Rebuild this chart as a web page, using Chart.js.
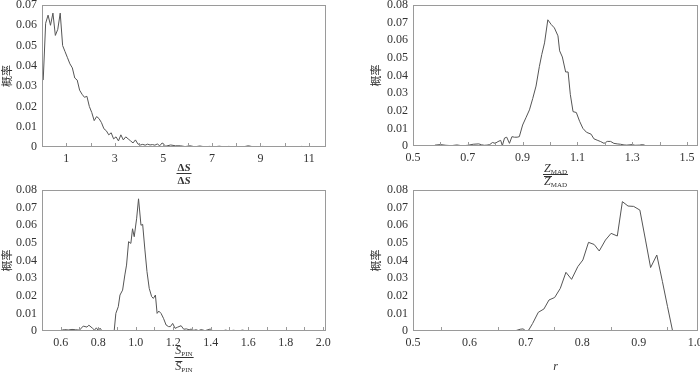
<!DOCTYPE html>
<html>
<head>
<meta charset="utf-8">
<script src="https://cdn.jsdelivr.net/npm/chart.js@4"></script>
<style>
  body { margin: 0; background: #fff; }
  #wrap { position: relative; width: 700px; height: 375px; overflow: hidden; }
  canvas { position: absolute; }
</style>
</head>
<body>
<div id="wrap">
  <canvas id="c1" width="350" height="187" style="left:0;top:0"></canvas>
  <canvas id="c2" width="350" height="187" style="left:350px;top:0"></canvas>
  <canvas id="c3" width="350" height="197" style="left:0;top:178px"></canvas>
  <canvas id="c4" width="350" height="197" style="left:350px;top:178px"></canvas>
</div>
<script>
// panel 1: dS / mean dS
const dsX = [0.05,0.15,0.25,0.35,0.45,0.55,0.65,0.75,0.85,0.95,
  1.05,1.15,1.25,1.35,1.45,1.55,1.65,1.75,1.85,1.95,
  2.05,2.15,2.25,2.35,2.45,2.55,2.65,2.75,2.85,2.95,
  3.05,3.15,3.25,3.35,3.45,3.55,3.65,3.75,3.85,3.95,
  4.05,4.15,4.25,4.35,4.45,4.55,4.65,4.75,4.85,4.95,
  5.1,5.3,5.5,5.7,5.9,6.1,6.3,6.5,6.7,6.9,7.1,7.3,7.5,7.7,7.9,8.1,8.3,8.5,8.7,8.9,
  9.1,9.3,9.5,9.7,9.9,10.1,10.3,10.5,10.7,10.9,11.1,11.3,11.5,11.7];
const dsP = [0.033,0.061,0.065,0.060,0.066,0.055,0.058,0.066,0.050,0.047,
  0.044,0.041,0.039,0.034,0.033,0.028,0.026,0.0245,0.025,0.020,
  0.017,0.013,0.015,0.014,0.012,0.009,0.008,0.006,0.007,0.004,
  0.005,0.003,0.006,0.0035,0.005,0.004,0.003,0.002,0.0035,0.0015,
  0.001,0.0013,0.0009,0.0014,0.001,0.0012,0.0009,0.0015,0.0006,0.002,
  0.0004,0.001,0.0006,0.0006,0.0002,0.0006,0.0001,0.0005,0.0001,0.0003,0.0001,0.0004,0.0001,0.0003,0,0.0002,0.0001,0.0006,0.0001,0,
  0.0003,0,0.0001,0,0.0001,0,0.0001,0,0.0003,0,0.0001,0,0,0];
const dsTicks = [1, 3, 5, 7, 9, 11];

// panel 2: Z_MAD / mean
const zX = [0.58,0.60,0.62,0.64,0.66,0.68,0.70,0.72,0.74,0.75,0.76,0.77,0.78,0.79,0.80,0.81,0.82,0.826,0.834,0.842,
  0.852,0.861,0.870,0.880,0.888,0.900,0.912,0.925,0.937,0.949,0.961,0.970,0.980,0.992,1.004,1.016,1.029,1.035,1.045,1.057,
  1.066,1.074,1.084,1.096,1.108,1.120,1.133,1.150,1.160,1.172,1.185,1.197,1.209,1.221,1.233,1.245,1.257,1.270,1.280,1.300,
  1.310,1.326,1.338,1.350,1.370,1.400,1.420];
const zP = [0.0005,0.0008,0.0004,0.0002,0.0006,0.0001,0.0004,0.001,0.0012,0.0007,0.0004,0.0005,0.0008,0.002,0.0015,0.0025,0.0032,0.0002,0.0045,0.005,
  0.0015,0.0053,0.005,0.005,0.0053,0.0119,0.016,0.0205,0.027,0.034,0.045,0.052,0.0585,0.0716,0.069,0.067,0.0625,0.054,0.0505,0.042,
  0.042,0.0293,0.0195,0.019,0.014,0.010,0.0078,0.0067,0.0041,0.0033,0.0025,0.0015,0.0026,0.0026,0.0015,0.0012,0.001,0.0006,0.0005,0.0008,
  0.0004,0.0005,0.0008,0.0002,0,0.0003,0];
const zTicks = [0.5, 0.7, 0.9, 1.1, 1.3, 1.5];

// panel 3: S_PIN / mean
const sX = [0.55,0.58,0.60,0.62,0.64,0.66,0.68,0.70,0.72,0.74,0.75,0.77,0.78,0.79,0.80,0.81,0.82,0.86,0.885,0.894,
  0.907,0.916,0.930,0.942,0.951,0.962,0.974,0.983,0.992,1.005,1.015,1.028,1.037,1.049,1.060,1.072,1.085,1.094,1.105,1.114,
  1.123,1.135,1.148,1.162,1.175,1.185,1.197,1.210,1.224,1.242,1.256,1.270,1.285,1.295,1.310,1.322,1.335,1.349,1.370,1.397,
  1.410,1.430,1.460,1.480,1.500,1.520,1.550,1.570,1.590,1.620];
const sP = [0,0,0.0003,0.0008,0.0006,0.0009,0.0007,0.0005,0.0028,0.0022,0.0033,0.0015,0.0005,0.0018,0.0003,0.0016,0,0,0,0.010,
  0.0138,0.0204,0.0232,0.0318,0.0374,0.0507,0.0497,0.058,0.0535,0.064,0.075,0.060,0.0605,0.046,0.0337,0.0242,0.0195,0.0185,0.0204,0.010,
  0.0113,0.010,0.0072,0.0034,0.0025,0.0025,0.0043,0.0015,0.0022,0.003,0.001,0.0012,0.0007,0.0011,0.0004,0.0007,0.0002,0.0008,0.0002,0.0011,
  0.0003,0.0002,0,0.0005,0,0.0004,0.0001,0.0005,0,0];
const sTicks = [0.6, 0.8, 1.0, 1.2, 1.4, 1.6, 1.8, 2.0];

// panel 4: r
const rX = [0.5,0.55,0.60,0.63,0.645,0.66,0.68,0.69,0.695,0.70,0.705,0.712,0.722,0.732,0.741,0.751,0.761,0.771,0.781,0.792,
  0.801,0.811,0.821,0.830,0.841,0.851,0.862,0.871,0.881,0.891,0.902,0.912,0.921,0.932,0.942,0.951,0.960,0.970,0.980];
const rP = [0,0,0,0,0.0002,0,0,0.001,0.0012,0,0.0005,0.0043,0.0106,0.0125,0.0176,0.019,0.0242,0.0333,0.0293,0.0365,
  0.0403,0.0503,0.0491,0.0454,0.0516,0.0554,0.0539,0.0734,0.0709,0.0707,0.0686,0.0516,0.036,0.0431,0.028,0.0138,0,0,0];
const rTicks = [0.5, 0.6, 0.7, 0.8, 0.9, 1.0];

const yTicks7 = [0, 0.01, 0.02, 0.03, 0.04, 0.05, 0.06, 0.07];
const yTicks8 = [0, 0.01, 0.02, 0.03, 0.04, 0.05, 0.06, 0.07, 0.08];
const yName = "概率";

Chart.defaults.font.family = '"Liberation Serif", "Times New Roman", serif';
Chart.defaults.color = "#333";

const SERIF = '"Liberation Serif", serif';

// draw a run of text pieces centred on cx, return total width
function pieces(ctx, parts, cx, y, draw) {
  let w = 0;
  parts.forEach((p) => {
    ctx.font = p.f;
    w += ctx.measureText(p.t).width;
  });
  if (!draw) return w;
  let x = cx - w / 2;
  parts.forEach((p) => {
    ctx.font = p.f;
    ctx.fillText(p.t, x, y + (p.dy || 0));
    x += ctx.measureText(p.t).width;
  });
  return w;
}

const framePlugin = {
  id: "frame",
  afterDraw(chart) {
    const o = chart.options.plugins.frame;
    const { ctx, chartArea: a } = chart;
    const xs = chart.scales.x;
    ctx.save();
    ctx.strokeStyle = "#9a9a9a";
    ctx.lineWidth = 1;
    ctx.strokeRect(a.left + 0.5, a.top + 0.5, a.right - a.left - 1, a.bottom - a.top - 1);
    ctx.beginPath();
    o.marks.forEach((v) => {
      const px = Math.round(xs.getPixelForValue(v)) + 0.5;
      ctx.moveTo(px, a.bottom);
      ctx.lineTo(px, a.bottom - 4);
    });
    ctx.stroke();

    ctx.fillStyle = "#333";
    ctx.textBaseline = "middle";
    ctx.textAlign = "left";
    // y title
    ctx.save();
    ctx.translate(o.yx, (a.top + a.bottom) / 2);
    ctx.rotate(-Math.PI / 2);
    ctx.font = '11px "Noto Sans CJK SC"';
    ctx.textAlign = "center";
    ctx.fillText(yName, 0, 0);
    ctx.restore();

    // x title
    const cx = (a.left + a.right) / 2;
    const t = o.title;
    if (t.single) {
      pieces(ctx, t.single, cx, t.y, true);
    } else {
      const w1 = pieces(ctx, t.num, cx, t.yNum, true);
      const w2 = pieces(ctx, t.den, cx, t.yDen, true);
      const lw = Math.max(w1, w2) + 2;
      ctx.strokeStyle = "#333";
      ctx.beginPath();
      ctx.moveTo(cx - lw / 2, t.yLine + 0.5);
      ctx.lineTo(cx + lw / 2, t.yLine + 0.5);
      // bar over the mean in the denominator
      const ow = t.barW;
      const ox = cx - w2 / 2;
      ctx.moveTo(ox, t.yDen - 5.5);
      ctx.lineTo(ox + ow, t.yDen - 5.5);
      ctx.stroke();
    }
    ctx.restore();
  },
};

function makeChart(id, xsArr, ysArr, cfg) {
  const pts = xsArr.map((x, i) => ({ x: x, y: ysArr[i] }));
  return new Chart(document.getElementById(id), {
    type: "line",
    data: {
      datasets: [
        {
          data: pts,
          borderColor: "#555",
          borderWidth: 1,
          pointRadius: 0,
          tension: 0,
          fill: false,
        },
      ],
    },
    options: {
      responsive: false,
      animation: false,
      events: [],
      layout: { padding: { top: cfg.top, right: cfg.right, left: 0, bottom: 0 } },
      plugins: {
        legend: { display: false },
        tooltip: { enabled: false },
        frame: { marks: cfg.marks, yx: cfg.yx, title: cfg.title },
      },
      scales: {
        x: {
          type: "linear",
          min: cfg.xmin,
          max: cfg.xmax,
          afterBuildTicks: (s) => {
            s.ticks = cfg.xTicks.map((v) => ({ value: v }));
          },
          ticks: {
            padding: 5,
            maxRotation: 0,
            autoSkip: false,
            font: { size: 12 },
            callback: (v) => v.toFixed(cfg.xDigits),
          },
          grid: { display: false, drawTicks: false, tickLength: 0 },
          border: { display: false },
          afterFit: (s) => {
            s.height = cfg.xh;
            s.paddingLeft = 0;
            s.paddingRight = 0;
          },
        },
        y: {
          min: 0,
          max: cfg.ymax,
          afterBuildTicks: (s) => {
            s.ticks = cfg.yTicks.map((v) => ({ value: v }));
          },
          ticks: {
            padding: 5,
            font: { size: 12 },
            callback: (v) => (v === 0 ? "0" : v.toFixed(2)),
          },
          grid: { display: false, drawTicks: false, tickLength: 0 },
          border: { display: false },
          afterFit: (s) => {
            s.width = cfg.yw;
            s.paddingTop = 0;
            s.paddingBottom = 0;
          },
        },
      },
    },
    plugins: [framePlugin],
  });
}

const dS = [
  { t: "Δ", f: "bold 11px " + SERIF },
  { t: "S", f: "italic bold 11px " + SERIF },
];
const zMad = [
  { t: "Z", f: "italic 12px " + SERIF },
  { t: "MAD", f: "7px " + SERIF, dy: 3 },
];
const sPin = [
  { t: "S", f: "italic 12px " + SERIF },
  { t: "PIN", f: "7px " + SERIF, dy: 3 },
];

makeChart("c1", dsX, dsP, {
  xmin: 0, xmax: 11.7, xTicks: dsTicks, xDigits: 0,
  marks: [1, 2, 3, 4, 5, 6, 7, 8, 9, 10, 11],
  ymax: 0.07, yTicks: yTicks7,
  top: 5, right: 24, yw: 42, xh: 40, yx: 7,
  title: { num: dS, den: dS, yNum: 168, yLine: 173, yDen: 181, barW: 0 },
});

makeChart("c2", zX, zP, {
  xmin: 0.5, xmax: 1.54, xTicks: zTicks, xDigits: 1,
  marks: [0.6, 0.7, 0.8, 0.9, 1.0, 1.1, 1.2, 1.3, 1.4, 1.5],
  ymax: 0.08, yTicks: yTicks8,
  top: 5, right: 2, yw: 63, xh: 41, yx: 26,
  title: { num: zMad, den: zMad, yNum: 169, yLine: 174, yDen: 182, barW: 8 },
});

// bottom canvases start at 178, so local y = page y - 178
makeChart("c3", sX, sP, {
  xmin: 0.5, xmax: 2.015, xTicks: sTicks, xDigits: 1,
  marks: [0.6, 0.7, 0.8, 0.9, 1.0, 1.1, 1.2, 1.3, 1.4, 1.5, 1.6, 1.7, 1.8, 1.9, 2.0],
  ymax: 0.08, yTicks: yTicks8,
  top: 12, right: 24, yw: 42, xh: 44, yx: 7,
  title: { num: sPin, den: sPin, yNum: 173, yLine: 179, yDen: 189, barW: 7 },
});

makeChart("c4", rX, rP, {
  xmin: 0.5, xmax: 1.005, xTicks: rTicks, xDigits: 1,
  marks: [0.55, 0.65, 0.75, 0.85, 0.95],
  ymax: 0.08, yTicks: yTicks8,
  top: 12, right: 2, yw: 63, xh: 44, yx: 26,
  title: { single: [{ t: "r", f: "italic 12px " + SERIF }], y: 189 },
});
</script>
</body>
</html>
